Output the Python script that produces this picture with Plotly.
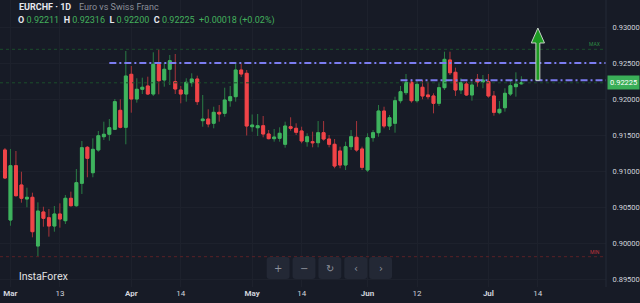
import pandas as pd
import plotly.graph_objects as go

# ---------------- data ----------------
first_day = "2026-02-27"
opens = [0.91292, 0.90319, 0.91074, 0.90806, 0.90611, 0.90635, 0.89958, 0.90431, 0.90351, 0.90236,
         0.90403, 0.90310, 0.90621, 0.90518, 0.90829, 0.91329, 0.90976, 0.91292, 0.91476, 0.91510,
         0.91579, 0.91843, 0.91607, 0.92343, 0.92000, 0.92135, 0.92181, 0.92069, 0.92482, 0.92264,
         0.92413, 0.92240, 0.92125, 0.92069, 0.92226, 0.92278, 0.91699, 0.91722, 0.91663, 0.91815,
         0.91801, 0.91976, 0.92032, 0.92403, 0.92357, 0.91615, 0.91601, 0.91629, 0.91514, 0.91449,
         0.91454, 0.91371, 0.91615, 0.91593, 0.91556, 0.91407, 0.91407, 0.91393, 0.91532, 0.91444,
         0.91371, 0.91278, 0.91083, 0.91338, 0.91468, 0.91306, 0.91014, 0.91463, 0.91532, 0.91833,
         0.91625, 0.91663, 0.91976, 0.92088, 0.92232, 0.91976, 0.92163, 0.92056, 0.92042, 0.91940,
         0.92157, 0.92542, 0.92371, 0.92125, 0.92208, 0.92056, 0.92274, 0.92236, 0.92240, 0.92042,
         0.91810, 0.91879, 0.92069, 0.92171, 0.92211]
highs = [0.91319, 0.91306, 0.91278, 0.90990, 0.90768, 0.90699, 0.90565, 0.90504, 0.90472, 0.90514,
         0.90551, 0.90667, 0.90713, 0.91028, 0.91417, 0.91347, 0.91454, 0.91556, 0.91685, 0.91722,
         0.92000, 0.91996, 0.92667, 0.92458, 0.92288, 0.92296, 0.92310, 0.92649, 0.92690, 0.92504,
         0.92611, 0.92625, 0.92181, 0.92288, 0.92357, 0.92324, 0.92056, 0.91857, 0.91893, 0.91917,
         0.92157, 0.92181, 0.92496, 0.92490, 0.92403, 0.91785, 0.91792, 0.91764, 0.91569, 0.91583,
         0.91607, 0.91685, 0.91746, 0.91663, 0.91615, 0.91524, 0.91546, 0.91694, 0.91694, 0.91500,
         0.91444, 0.91338, 0.91407, 0.91569, 0.91694, 0.91338, 0.91524, 0.91569, 0.91917, 0.91893,
         0.91778, 0.92032, 0.92181, 0.92347, 0.92274, 0.92264, 0.92264, 0.92240, 0.92079, 0.92218,
         0.92657, 0.92657, 0.92435, 0.92288, 0.92240, 0.92240, 0.92347, 0.92333, 0.92347, 0.92111,
         0.91972, 0.92149, 0.92250, 0.92371, 0.92316]
lows = [0.90889, 0.90240, 0.90646, 0.90560, 0.90496, 0.90079, 0.89810, 0.90226, 0.90088, 0.90157,
        0.90213, 0.90264, 0.90507, 0.90504, 0.90681, 0.90913, 0.90913, 0.91268, 0.91431, 0.91421,
        0.91569, 0.91593, 0.91371, 0.91810, 0.91949, 0.92069, 0.92056, 0.92042, 0.92065, 0.92171,
        0.92194, 0.92069, 0.91940, 0.91963, 0.92171, 0.91917, 0.91615, 0.91607, 0.91593, 0.91685,
        0.91754, 0.91893, 0.91963, 0.92306, 0.91493, 0.91546, 0.91486, 0.91468, 0.91440, 0.91407,
        0.91407, 0.91324, 0.91560, 0.91500, 0.91385, 0.91338, 0.91329, 0.91329, 0.91421, 0.91329,
        0.91038, 0.91038, 0.91014, 0.91292, 0.91268, 0.91014, 0.90986, 0.91407, 0.91476, 0.91593,
        0.91569, 0.91532, 0.91940, 0.92056, 0.91949, 0.91949, 0.91996, 0.91996, 0.91801, 0.91903,
        0.92125, 0.92333, 0.92042, 0.92069, 0.92042, 0.91976, 0.92171, 0.92149, 0.92018, 0.91768,
        0.91788, 0.91824, 0.92042, 0.92032, 0.92200]
closes = [0.90903, 0.91074, 0.90657, 0.90621, 0.90635, 0.90157, 0.90444, 0.90343, 0.90236, 0.90403,
          0.90333, 0.90621, 0.90518, 0.90838, 0.91324, 0.91176, 0.91301, 0.91490, 0.91510, 0.91601,
          0.91963, 0.91607, 0.92319, 0.92000, 0.92135, 0.92163, 0.92069, 0.92482, 0.92254, 0.92413,
          0.92532, 0.92139, 0.92069, 0.92232, 0.92278, 0.91963, 0.91722, 0.91653, 0.91815, 0.91792,
          0.91986, 0.92032, 0.92403, 0.92347, 0.91625, 0.91639, 0.91629, 0.91514, 0.91449, 0.91472,
          0.91524, 0.91625, 0.91593, 0.91538, 0.91417, 0.91476, 0.91393, 0.91532, 0.91444, 0.91371,
          0.91069, 0.91083, 0.91338, 0.91476, 0.91292, 0.91051, 0.91463, 0.91532, 0.91833, 0.91625,
          0.91740, 0.91976, 0.92101, 0.92232, 0.91976, 0.92204, 0.92042, 0.92032, 0.91940, 0.92157,
          0.92551, 0.92365, 0.92125, 0.92226, 0.92056, 0.92194, 0.92236, 0.92264, 0.92042, 0.91815,
          0.91857, 0.92079, 0.92185, 0.92207, 0.92225]

price_ticks = [0.895, 0.900, 0.905, 0.910, 0.915, 0.920, 0.925, 0.930]
x_tick_dates = ["2026-03-02", "2026-03-13", "2026-04-01", "2026-04-14", "2026-05-01",
                "2026-05-14", "2026-06-01", "2026-06-12", "2026-07-01", "2026-07-14"]
x_tick_text = ["<b>Mar</b>", "13", "<b>Apr</b>", "14", "<b>May</b>", "14", "<b>Jun</b>", "12", "<b>Jul</b>", "14"]

resistance_level = 0.925
resistance_start = "2026-03-26"
support_level = 0.9226
support_start = "2026-06-09"
arrow_date = "2026-07-14"
arrow_tip = 0.92986
arrow_head_base = 0.92778

# ---------------- calendar ----------------
axis_days = [d.strftime("%Y-%m-%d") for d in pd.bdate_range(first_day, "2026-08-31")]
pos = {d: i for i, d in enumerate(axis_days)}
n = len(opens)
xs = list(range(n))

X_RANGE = [-0.9, 109.4]
Y_RANGE = [0.89389, 0.93375]

BG = "#171b26"
GREEN = "#3fb35e"
RED = "#f04448"
GREEN_W = "#2a7d45"
RED_W = "#a8353b"
FONT = "Roboto, Inter, sans-serif"

body_hi = [max(o, c) for o, c in zip(opens, closes)]
body_lo = [min(o, c) for o, c in zip(opens, closes)]

fig = go.Figure()
# wicks
fig.add_trace(go.Candlestick(
    x=xs, open=opens, high=highs, low=lows, close=closes,
    increasing=dict(line=dict(color=GREEN_W, width=1), fillcolor=GREEN_W),
    decreasing=dict(line=dict(color=RED_W, width=1), fillcolor=RED_W),
    whiskerwidth=0, hoverinfo="skip", showlegend=False))
# bodies
fig.add_trace(go.Candlestick(
    x=xs, open=opens, high=body_hi, low=body_lo, close=closes,
    increasing=dict(line=dict(color=GREEN, width=1), fillcolor=GREEN),
    decreasing=dict(line=dict(color=RED, width=1), fillcolor=RED),
    whiskerwidth=0, hoverinfo="skip", showlegend=False))

max_high = max(highs)
min_low = min(lows)
last_close = closes[-1]
change = closes[-1] - closes[-2]
change_pct = change / closes[-2] * 100

shapes = []
# max / min / last price dotted lines
shapes.append(dict(type="line", xref="paper", x0=0, x1=1, yref="y", y0=max_high, y1=max_high,
                   line=dict(color="#1c4d2c", width=1, dash="dot")))
shapes.append(dict(type="line", xref="paper", x0=0, x1=1, yref="y", y0=min_low, y1=min_low,
                   line=dict(color="#5a2026", width=1, dash="dot")))
shapes.append(dict(type="line", xref="paper", x0=0, x1=1, yref="y", y0=last_close, y1=last_close,
                   line=dict(color="#1c4d2c", width=1, dash="dot")))
# horizontal levels
shapes.append(dict(type="line", xref="x", x0=pos[resistance_start], x1=X_RANGE[1], yref="y",
                   y0=resistance_level, y1=resistance_level,
                   line=dict(color="#7c7cf0", width=2, dash="7px,3px,2px,3px")))
shapes.append(dict(type="line", xref="x", x0=pos[support_start], x1=X_RANGE[1], yref="y",
                   y0=support_level, y1=support_level,
                   line=dict(color="#7c7cf0", width=2, dash="7px,3px,2px,3px")))
# arrow
ax = pos[arrow_date]
sw, hw = 0.36, 1.2
path = (f"M {ax-sw},{support_level} L {ax-sw},{arrow_head_base} L {ax-hw},{arrow_head_base} "
        f"L {ax},{arrow_tip} L {ax+hw},{arrow_head_base} L {ax+sw},{arrow_head_base} "
        f"L {ax+sw},{support_level} Z")
shapes.append(dict(type="path", xref="x", yref="y", path=path, fillcolor="#1c9a22",
                   line=dict(color="#c8d0c8", width=1)))
# right border of plot
shapes.append(dict(type="line", xref="paper", yref="paper", x0=1, x1=1, y0=0, y1=1,
                   line=dict(color="#252a36", width=1)))

# nav buttons (pixel -> paper)
PW, PH = 609.0, 287.0
def px(x): return x / PW
def py(y): return 1 - y / PH

buttons = [(268, 291, "+"), (294, 317, "−"), (320, 343, "↻"), (346, 369, "‹"), (371, 394, "›")]
annotations = []
for x0, x1, sym in buttons:
    r = 3
    y0, y1 = 257, 279
    p = (f"M {px(x0+r)},{py(y0)} L {px(x1-r)},{py(y0)} Q {px(x1)},{py(y0)} {px(x1)},{py(y0+r)} "
         f"L {px(x1)},{py(y1-r)} Q {px(x1)},{py(y1)} {px(x1-r)},{py(y1)} "
         f"L {px(x0+r)},{py(y1)} Q {px(x0)},{py(y1)} {px(x0)},{py(y1-r)} "
         f"L {px(x0)},{py(y0+r)} Q {px(x0)},{py(y0)} {px(x0+r)},{py(y0)} Z")
    shapes.append(dict(type="path", xref="paper", yref="paper", path=p,
                       fillcolor="#232835", line=dict(width=0)))
    annotations.append(dict(xref="paper", yref="paper", x=px((x0 + x1) / 2), y=py(268),
                            text=sym, showarrow=False, xanchor="center", yanchor="middle",
                            font=dict(family="DejaVu Sans", size=10, color="#8d929c")))

# header
annotations.append(dict(xref="paper", yref="paper", x=px(17), y=py(6.5), xanchor="left", yanchor="middle",
                        text="<b>EURCHF · 1D</b>", showarrow=False,
                        font=dict(family=FONT, size=9, color="#e6e8ee")))
annotations.append(dict(xref="paper", yref="paper", x=px(77), y=py(6.5), xanchor="left", yanchor="middle",
                        text="Euro vs Swiss Franc", showarrow=False,
                        font=dict(family=FONT, size=9, color="#8b8f99")))
G = "#43b05c"
ohlc = (f"<b>O</b> <span style='color:{G}'>{opens[-1]:.5f}</span>  "
        f"<b>H</b> <span style='color:{G}'>{highs[-1]:.5f}</span>  "
        f"<b>L</b> <span style='color:{G}'>{lows[-1]:.5f}</span>  "
        f"<b>C</b> <span style='color:{G}'>{closes[-1]:.5f}</span>  "
        f"<span style='color:{G}'>{change:+.5f} ({change_pct:+.2f}%)</span>")
annotations.append(dict(xref="paper", yref="paper", x=px(16), y=py(21), xanchor="left", yanchor="middle",
                        text=ohlc, showarrow=False, font=dict(family=FONT, size=9, color="#e6e8ee")))

# watermark
annotations.append(dict(xref="paper", yref="paper", x=px(17), y=py(276), xanchor="left", yanchor="middle",
                        text="InstaForex", showarrow=False,
                        font=dict(family="Inter, Roboto, sans-serif", size=10, color="#e8e8e8")))

# MAX / MIN labels
annotations.append(dict(xref="paper", yref="y", x=0.993, y=max_high, xanchor="right", yanchor="bottom",
                        text="MAX", showarrow=False, font=dict(family=FONT, size=5, color="#2e8a45")))
annotations.append(dict(xref="paper", yref="y", x=0.993, y=min_low, xanchor="right", yanchor="bottom",
                        text="MIN", showarrow=False, font=dict(family=FONT, size=5, color="#c0343c")))

# last price label
annotations.append(dict(xref="paper", yref="y", x=1.002, y=last_close, xanchor="left", yanchor="middle",
                        text=f"{last_close:.5f}", showarrow=False, bgcolor="#3aae58", borderpad=2,
                        font=dict(family=FONT, size=7.5, color="#ffffff")))

fig.update_layout(
    width=640, height=303,
    margin=dict(l=0, r=31, t=0, b=16),
    paper_bgcolor=BG, plot_bgcolor=BG,
    boxgap=0.25,
    shapes=shapes, annotations=annotations,
    xaxis=dict(range=X_RANGE, tickvals=[pos[d] for d in x_tick_dates], ticktext=x_tick_text,
               showgrid=True, gridcolor="#1d212c", gridwidth=1, zeroline=False, showline=False,
               ticks="", tickfont=dict(family=FONT, size=8, color="#d1d4dc"),
               rangeslider=dict(visible=False), fixedrange=True),
    yaxis=dict(range=Y_RANGE, side="right", tickvals=price_ticks, tickformat=".5f",
               showgrid=True, gridcolor="#1d212c", zeroline=False, showline=False,
               ticks="outside", ticklen=4, tickcolor=BG,
               tickfont=dict(family=FONT, size=7.5, color="#d1d4dc"), fixedrange=True),
    showlegend=False,
)

fig.write_html("out.html")
